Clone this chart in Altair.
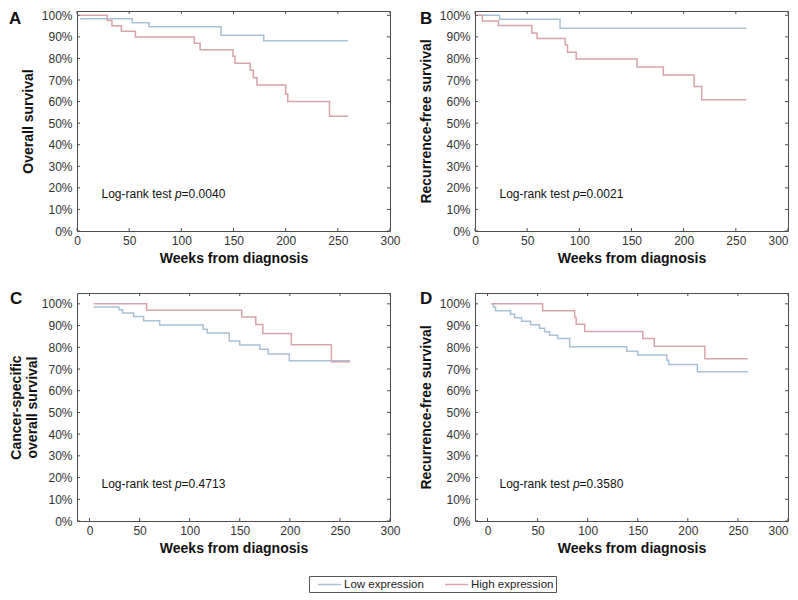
import altair as alt
import pandas as pd

FONT = "Liberation Sans"
LOW = "Low expression"
HIGH = "High expression"
LOW_COLOR = "#a9c1d6"
HIGH_COLOR = "#d6a4aa"
FRAME = "#4d4d4d"

X_TICKS = [0, 50, 100, 150, 200, 250, 300]
Y_TICKS = [0, 10, 20, 30, 40, 50, 60, 70, 80, 90, 100]

# Panel A - overall survival
A_low_t = [3, 53, 69, 138, 179, 260]
A_low_s = [98.4, 96.6, 94.7, 90.8, 88.2, 88.2]
A_high_t = [3, 29, 33.5, 42.5, 56, 112.5, 118, 149.5, 151.5, 166, 169, 172.5, 200, 202, 242, 260]
A_high_s = [100, 97.6, 95.2, 92.6, 90.0, 87.0, 84.0, 81.0, 77.8, 74.5, 71.0, 67.7, 63.5, 60.0, 53.2, 53.2]

# Panel B - recurrence-free survival
B_low_t = [3, 23.5, 81.5, 260]
B_low_s = [100, 98.2, 94.0, 94.0]
B_high_t = [3, 7, 22.5, 54.5, 59.5, 86.5, 88.7, 97, 155.3, 180.5, 210, 217.3, 260]
B_high_s = [100, 97.4, 95.3, 91.8, 89.2, 86.2, 82.9, 79.8, 76.0, 72.3, 67.0, 60.9, 60.9]

# Panel C - cancer-specific overall survival
C_low_t = [4, 29.5, 33, 44, 54, 70, 113.5, 117.5, 139.5, 150, 170, 178.5, 199.5, 260]
C_low_s = [98.6, 97.3, 95.8, 94.2, 92.2, 90.3, 88.3, 86.6, 82.9, 81.0, 79.1, 76.9, 73.8, 73.8]
C_high_t = [4, 57, 152, 166, 173, 201.5, 241.5, 260]
C_high_s = [100, 97.0, 93.9, 90.5, 86.4, 81.2, 73.3, 73.3]

# Panel D - recurrence-free survival
D_low_t = [4, 6, 8, 23, 27, 34, 43, 52, 57, 62, 70, 82, 139, 150, 179, 181, 209.5, 260]
D_low_s = [100, 98.5, 96.8, 95.2, 93.6, 92.0, 90.4, 88.8, 87.2, 85.6, 84.0, 80.2, 78.2, 76.4, 74.0, 72.1, 68.7, 68.7]
D_high_t = [4, 55, 87, 88.5, 97, 155, 166.5, 217, 260]
D_high_s = [100, 96.8, 93.7, 90.6, 87.3, 84.0, 80.5, 74.7, 74.7]

W = 313

LEGEND = alt.Legend(
    orient="none", legendX=232, legendY=565, direction="horizontal", columns=2,
    title=None, symbolType="M-2.1,0H2.1", symbolSize=121, symbolStrokeWidth=1.5,
    labelFont=FONT, labelFontSize=11.5, labelColor="#222", strokeColor="#555",
    fillColor="white", padding=2, symbolOffset=12, labelOffset=8, columnPadding=14,
)


def text_layer(txt, x, y, size=12, weight="normal", style="normal", baseline="middle"):
    return alt.Chart(pd.DataFrame({"txt": [txt]})).mark_text(
        align="left", baseline=baseline, font=FONT, fontSize=size,
        fontWeight=weight, fontStyle=style, color="#111",
    ).encode(text="txt:N", x=alt.value(x), y=alt.value(y))


def panel(letter, low_t, low_s, high_t, high_s, ytitle, pval, xmin, ymax, h,
          letter_x, letter_y, ytitle_pad, line_height=18, right_col=False):
    df = pd.concat([
        pd.DataFrame({"t": low_t, "s": low_s, "g": LOW}),
        pd.DataFrame({"t": high_t, "s": high_s, "g": HIGH}),
    ])
    xs = alt.Scale(domain=[xmin, 300], nice=False, zero=False)
    ys = alt.Scale(domain=[0, ymax], nice=False, zero=False)
    xax_args = dict(values=X_TICKS, title="Weeks from diagnosis", labelFlush=False,
                    labelPadding=4, titlePadding=5)
    if right_col:
        xax_args["labelAlign"] = {"condition": {"test": "datum.value >= 300", "value": "right"},
                                  "value": "center"}
    xax = alt.Axis(**xax_args)
    yax = alt.Axis(values=Y_TICKS, title=ytitle, labelExpr="datum.value + '%'",
                   labelPadding=5, titlePadding=ytitle_pad, titleLineHeight=line_height)

    def X():
        return alt.X("t:Q", scale=xs, axis=xax)

    def Y():
        return alt.Y("s:Q", scale=ys, axis=yax)

    lines = alt.Chart(df).mark_line(interpolate="step-after", strokeWidth=1.5).encode(
        x=X(), y=Y(),
        color=alt.Color("g:N", scale=alt.Scale(domain=[LOW, HIGH], range=[LOW_COLOR, HIGH_COLOR]),
                        legend=LEGEND),
    )
    xt = pd.DataFrame({"t": X_TICKS})
    yt = pd.DataFrame({"s": Y_TICKS})
    rule = dict(color=FRAME, strokeWidth=1)
    t_bottom = alt.Chart(xt).mark_rule(**rule).encode(x=X(), y=alt.value(h), y2=alt.value(h - 3))
    t_top = alt.Chart(xt).mark_rule(**rule).encode(x=X(), y=alt.value(0), y2=alt.value(3))
    t_left = alt.Chart(yt).mark_rule(**rule).encode(y=Y(), x=alt.value(0), x2=alt.value(3))
    t_right = alt.Chart(yt).mark_rule(**rule).encode(y=Y(), x=alt.value(W - 3), x2=alt.value(W))

    px = 24.5
    py = h - 37
    p1 = text_layer("Log-rank test", px, py)
    p2 = text_layer("p", px + 73.4, py, style="italic")
    p3 = text_layer("=" + pval, px + 80.1, py)
    let = text_layer(letter, letter_x, letter_y, size=17, weight="bold", baseline="top")

    return alt.layer(lines, t_bottom, t_top, t_left, t_right, p1, p2, p3, let).properties(
        width=W, height=h)


A = panel("A", A_low_t, A_low_s, A_high_t, A_high_s, "Overall survival", "0.0040",
          0, 102, 220, -68, 0, 6)
B = panel("B", B_low_t, B_low_s, B_high_t, B_high_s, "Recurrence-free survival", "0.0021",
          0, 102, 220, -55, 0, 6, right_col=True)
C = panel("C", C_low_t, C_low_s, C_high_t, C_high_s, ["Cancer-specific", "overall survival"],
          "0.4713", -12.5, 105, 228, -67, -2, 2, 16)
D = panel("D", D_low_t, D_low_s, D_high_t, D_high_s, "Recurrence-free survival", "0.3580",
          -12.5, 105, 228, -55, -2, 6, right_col=True)

chart = alt.vconcat(
    alt.hconcat(A, B, spacing=17),
    alt.hconcat(C, D, spacing=17),
    spacing=23,
).properties(padding=0, background="white").configure_view(
    stroke=FRAME, strokeWidth=1
).configure_axis(
    domain=False, ticks=False, grid=False,
    labelFont=FONT, labelFontSize=12, labelColor="#333",
    titleFont=FONT, titleFontSize=14, titleFontWeight="bold", titleColor="#111",
)

chart.save("out.html", embed_options={"renderer": "svg", "actions": False})
